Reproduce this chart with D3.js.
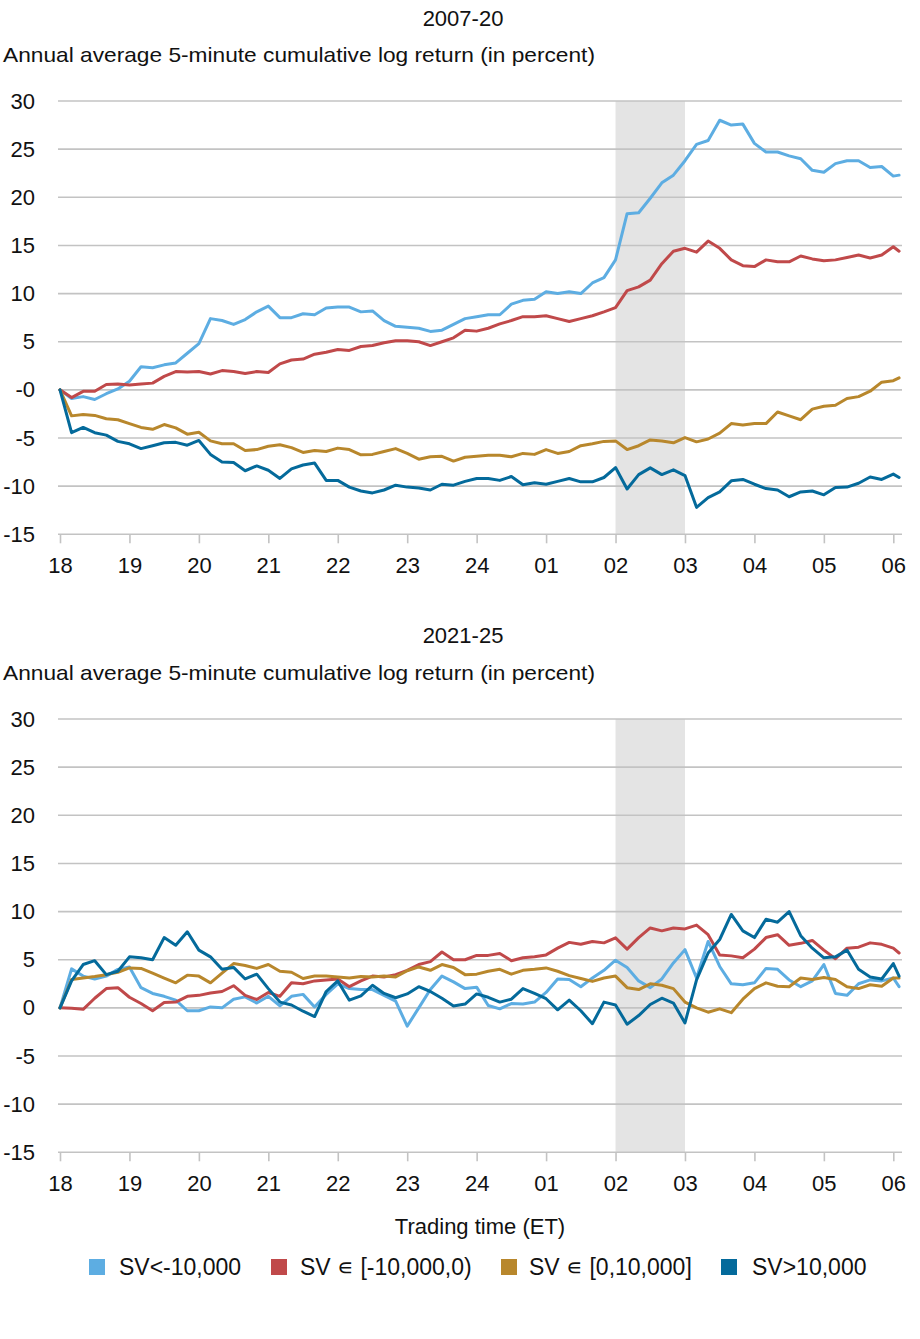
<!DOCTYPE html>
<html><head><meta charset="utf-8">
<script src="https://cdn.jsdelivr.net/npm/d3@7"></script>
<style>body{margin:0;background:#fff} svg{display:block}</style>
</head><body><svg id="c" width="920" height="1339"></svg>
<script>
// ---- data ----
const minutes = [0,10,20,30,40,50,60,70,80,90,100,110,120,130,140,150,160,170,180,190,200,210,220,230,240,250,260,270,280,290,300,310,320,330,340,350,360,370,380,390,400,410,420,430,440,450,460,470,480,490,500,510,520,530,540,550,560,570,580,590,600,610,620,630,640,650,660,670,680,690,700,710,720,725];
const hourTicks = [0,60,120,180,240,300,360,420,480,540,600,660,720];
const hourLabels = ["18","19","20","21","22","23","24","01","02","03","04","05","06"];
const yTicks = [30,25,20,15,10,5,0,-5,-10,-15];
const yLabelsTop = ["30","25","20","15","10","5","-0","-5","-10","-15"];
const yLabelsBottom = ["30","25","20","15","10","5","0","-5","-10","-15"];
const shadeRange = [480, 540];
const seriesNames = ["SV<-10,000","SV \u220A [-10,000,0)","SV \u220A [0,10,000]","SV>10,000"];
const seriesColors = ["#5dade2","#c0494a","#b8872c","#046a9b"];
const panelTitles = ["2007-20","2021-25"];
const subtitle = "Annual average 5-minute cumulative log return (in percent)";
const xTitle = "Trading time (ET)";

// 2007-20
const top_lb = [0,-0.9,-0.7,-1.0,-0.4,0.1,0.9,2.4,2.3,2.6,2.8,3.8,4.8,7.4,7.2,6.8,7.3,8.1,8.7,
 7.5,7.5,7.9,7.8,8.5,8.6,8.6,8.1,8.2,7.2,6.6,6.5,6.4,6.07,6.2,6.8,7.4,7.6,
 7.8,7.8,8.9,9.3,9.4,10.2,10.0,10.2,10.0,11.1,11.65,13.5,18.3,18.4,19.9,21.5,22.3,23.8,
 25.5,25.9,28.0,27.5,27.6,25.6,24.7,24.7,24.3,24.0,22.8,22.6,23.5,23.8,23.8,23.1,23.2,22.2,22.3];
const top_red = [0,-0.8,-0.15,-0.15,0.55,0.6,0.5,0.6,0.7,1.4,1.9,1.85,1.9,1.65,2.0,1.9,1.7,1.9,1.8,
 2.7,3.1,3.2,3.7,3.9,4.2,4.1,4.5,4.6,4.9,5.1,5.1,5.0,4.6,5.0,5.4,6.2,6.1,
 6.4,6.85,7.2,7.6,7.6,7.7,7.4,7.1,7.4,7.7,8.1,8.55,10.3,10.7,11.4,13.1,14.4,14.7,
 14.3,15.45,14.7,13.5,12.9,12.8,13.5,13.3,13.3,13.9,13.6,13.4,13.5,13.75,14.0,13.7,14.0,14.86,14.4];
const top_gold = [0,-2.7,-2.55,-2.65,-3.0,-3.1,-3.5,-3.9,-4.1,-3.6,-3.95,-4.6,-4.4,-5.3,-5.6,-5.6,-6.3,-6.2,-5.85,
 -5.7,-6.0,-6.5,-6.3,-6.4,-6.05,-6.2,-6.75,-6.7,-6.4,-6.1,-6.6,-7.2,-6.95,-6.9,-7.4,-7.0,-6.9,
 -6.8,-6.8,-6.95,-6.6,-6.7,-6.2,-6.6,-6.4,-5.8,-5.6,-5.35,-5.3,-6.2,-5.8,-5.2,-5.3,-5.5,-4.95,
 -5.4,-5.1,-4.5,-3.5,-3.65,-3.5,-3.5,-2.3,-2.7,-3.1,-2.0,-1.7,-1.6,-0.9,-0.7,-0.14,0.8,0.95,1.24];
const top_db = [0,-4.45,-3.9,-4.45,-4.7,-5.35,-5.6,-6.1,-5.8,-5.5,-5.45,-5.75,-5.25,-6.7,-7.5,-7.55,-8.4,-7.9,-8.35,
 -9.2,-8.2,-7.8,-7.6,-9.4,-9.4,-10.1,-10.5,-10.7,-10.4,-9.9,-10.1,-10.2,-10.4,-9.8,-9.9,-9.5,-9.2,
 -9.2,-9.4,-9.0,-9.85,-9.65,-9.8,-9.5,-9.2,-9.55,-9.55,-9.1,-8.07,-10.3,-8.8,-8.1,-8.8,-8.3,-8.9,
 -12.2,-11.2,-10.6,-9.45,-9.3,-9.8,-10.25,-10.4,-11.1,-10.6,-10.5,-10.9,-10.14,-10.1,-9.7,-9.05,-9.3,-8.75,-9.1];

// 2021-25
const bot_lb = [0,4.05,3.3,3.0,3.3,4.0,4.25,2.1,1.5,1.2,0.8,-0.3,-0.3,0.1,0.0,0.9,1.14,0.5,1.2,
 0.2,1.2,1.4,0.1,1.4,2.5,2.0,1.9,1.9,1.3,0.7,-1.9,0.0,1.9,3.3,2.7,2.0,2.15,
 0.25,-0.1,0.45,0.4,0.6,1.6,3.0,2.95,2.2,3.1,3.9,4.95,4.2,2.8,2.1,3.0,4.67,6.05,
 3.1,6.9,4.3,2.5,2.4,2.6,4.1,4.0,2.9,2.2,2.8,4.5,1.5,1.3,2.5,2.9,2.8,3.1,2.2];
const bot_red = [0,-0.05,-0.15,1.0,2.0,2.1,1.1,0.45,-0.3,0.55,0.6,1.2,1.3,1.55,1.7,2.3,1.3,0.87,1.6,
 1.2,2.6,2.5,2.8,2.9,3.0,2.2,2.8,3.3,3.2,3.45,3.9,4.5,4.8,5.8,5.0,5.0,5.45,
 5.45,5.64,4.9,5.2,5.3,5.5,6.2,6.8,6.6,6.9,6.75,7.27,6.1,7.3,8.3,8.0,8.3,8.2,
 8.6,7.6,5.5,5.4,5.2,6.1,7.3,7.6,6.5,6.7,7.0,6.0,5.1,6.2,6.3,6.75,6.6,6.2,5.7];
const bot_gold = [0,2.95,3.1,3.25,3.45,3.7,4.15,4.1,3.6,3.1,2.6,3.4,3.3,2.6,3.6,4.6,4.4,4.1,4.5,
 3.8,3.7,3.05,3.3,3.3,3.2,3.1,3.25,3.2,3.3,3.2,3.85,4.25,3.9,4.5,4.2,3.45,3.5,
 3.8,4.0,3.5,3.9,4.0,4.15,3.8,3.35,3.05,2.75,3.1,3.3,2.1,1.9,2.5,2.35,2.0,0.6,
 0.0,-0.45,-0.1,-0.5,0.9,2.0,2.6,2.25,2.2,3.1,2.95,3.15,2.95,2.2,2.0,2.4,2.25,3.1,3.1];
const bot_db = [0,2.8,4.5,4.9,3.45,3.8,5.3,5.2,5.0,7.3,6.5,7.9,6.0,5.3,4.0,4.2,3.0,3.5,2.0,
 0.6,0.3,-0.35,-0.9,1.7,2.8,0.8,1.25,2.35,1.5,1.05,1.45,2.2,1.7,1.0,0.2,0.4,1.45,
 1.1,0.6,0.9,2.0,1.5,0.95,-0.2,0.8,-0.3,-1.65,0.6,0.3,-1.7,-0.8,0.35,1.0,0.5,-1.56,
 2.9,5.7,7.1,9.7,8.0,7.3,9.2,8.9,10.0,7.5,6.2,5.2,5.3,6.0,4.0,3.2,3.0,4.6,3.3];

// ---- drawing ----
const FONT = "'Liberation Sans', Arial, Helvetica, sans-serif";
const svg = d3.select("#c");
const gridColor = "#c3c3c3";
const x = d3.scaleLinear().domain([0, 720]).range([60, 893.3]);
const gridX = [58, 902];

const panels = [
  {title: panelTitles[0], titleY: 26, subY: 62, top: 101, bottom: 534.3, labels: yLabelsTop,
   data: [top_lb, top_red, top_gold, top_db]},
  {title: panelTitles[1], titleY: 643, subY: 680, top: 719, bottom: 1152.3, labels: yLabelsBottom,
   data: [bot_lb, bot_red, bot_gold, bot_db]}
];

panels.forEach(p => {
  const y = d3.scaleLinear().domain([-15, 30]).range([p.bottom, p.top]);
  const g = svg.append("g");

  g.append("text").attr("x", 463).attr("y", p.titleY).attr("text-anchor", "middle")
    .attr("font-family", FONT).attr("font-size", 22).attr("fill", "#111").text(p.title);
  g.append("text").attr("x", 3).attr("y", p.subY)
    .attr("font-family", FONT).attr("font-size", 21).attr("fill", "#111")
    .attr("textLength", 592).attr("lengthAdjust", "spacingAndGlyphs").text(subtitle);

  // shaded band
  g.append("rect").attr("x", x(shadeRange[0])).attr("y", p.top)
    .attr("width", x(shadeRange[1]) - x(shadeRange[0])).attr("height", p.bottom - p.top)
    .attr("fill", "#e4e4e4");

  // gridlines
  g.selectAll("line.grid").data(yTicks).join("line").attr("class", "grid")
    .attr("x1", gridX[0]).attr("x2", gridX[1])
    .attr("y1", d => y(d)).attr("y2", d => y(d))
    .attr("stroke", gridColor).attr("stroke-width", 1.6);

  // y axis labels
  const ya = g.append("g").attr("transform", `translate(${gridX[0]},0)`)
    .call(d3.axisLeft(y).tickValues(yTicks).tickSize(0).tickPadding(23)
      .tickFormat((d, i) => p.labels[i]));
  ya.select(".domain").remove();
  ya.selectAll("text").attr("font-family", FONT).attr("font-size", 22).attr("fill", "#111");

  // x axis
  const xa = g.append("g").attr("transform", `translate(0,${p.bottom})`)
    .call(d3.axisBottom(x).tickValues(hourTicks).tickSize(9).tickPadding(14)
      .tickFormat((d, i) => hourLabels[i]));
  xa.select(".domain").remove();
  xa.selectAll("line").attr("stroke", gridColor).attr("stroke-width", 1.6);
  xa.selectAll("text").attr("font-family", FONT).attr("font-size", 22).attr("fill", "#111");

  // lines
  const line = d3.line().x((d, i) => x(minutes[i])).y(d => y(d));
  p.data.forEach((vals, si) => {
    g.append("path").datum(vals).attr("d", line)
      .attr("fill", "none").attr("stroke", seriesColors[si])
      .attr("stroke-width", 3).attr("stroke-linejoin", "round").attr("stroke-linecap", "round");
  });
});

// x title
svg.append("text").attr("x", 480).attr("y", 1234).attr("text-anchor", "middle")
  .attr("font-family", FONT).attr("font-size", 22).attr("fill", "#111").text(xTitle);

// legend
const legSq = [89, 271, 501, 721];
const legTx = [119, 300, 529, 752];
const lg = svg.append("g");
seriesNames.forEach((n, i) => {
  lg.append("rect").attr("x", legSq[i]).attr("y", 1259).attr("width", 16).attr("height", 16)
    .attr("fill", seriesColors[i]);
  lg.append("text").attr("x", legTx[i]).attr("y", 1275)
    .attr("font-family", FONT).attr("font-size", 23).attr("fill", "#111").text(n);
});
</script></body></html>
